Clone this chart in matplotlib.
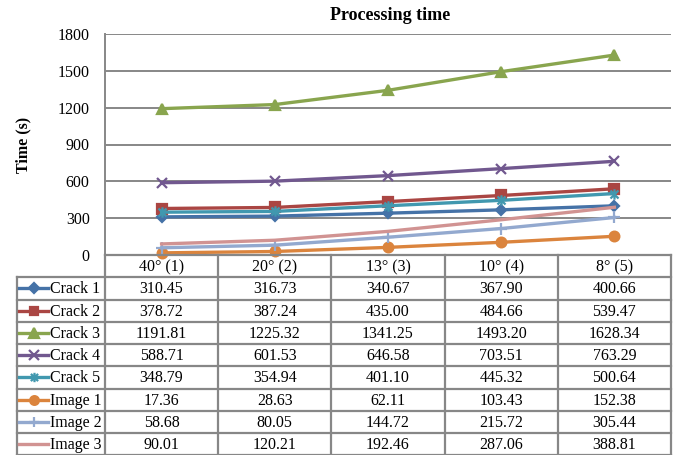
import matplotlib
matplotlib.use("Agg")
import matplotlib.pyplot as plt
from matplotlib.lines import Line2D
from matplotlib.path import Path

plt.rcParams['font.family'] = ['Liberation Serif', 'DejaVu Serif']

categories = ["40° (1)", "20° (2)", "13° (3)", "10° (4)", "8° (5)"]
series_names = ["Crack 1", "Crack 2", "Crack 3", "Crack 4", "Crack 5",
                "Image 1", "Image 2", "Image 3"]
crack1 = [310.45, 316.73, 340.67, 367.90, 400.66]
crack2 = [378.72, 387.24, 435.00, 484.66, 539.47]
crack3 = [1191.81, 1225.32, 1341.25, 1493.20, 1628.34]
crack4 = [588.71, 601.53, 646.58, 703.51, 763.29]
crack5 = [348.79, 354.94, 401.10, 445.32, 500.64]
image1 = [17.36, 28.63, 62.11, 103.43, 152.38]
image2 = [58.68, 80.05, 144.72, 215.72, 305.44]
image3 = [90.01, 120.21, 192.46, 287.06, 388.81]
y_ticks = [0, 300, 600, 900, 1200, 1500, 1800]

series_values = [crack1, crack2, crack3, crack4, crack5, image1, image2, image3]

# asterisk-style marker: an x crossed by a vertical bar
star_path = Path([(-1, -1), (1, 1), (-1, 1), (1, -1), (0, -1.3), (0, 1.3)],
                 [Path.MOVETO, Path.LINETO, Path.MOVETO, Path.LINETO,
                  Path.MOVETO, Path.LINETO])

colors = ["#4572A7", "#AA4643", "#89A54E", "#71588F", "#4198AF",
          "#DB843D", "#93A9CF", "#D19392"]
markers = ["D", "s", "^", "x", star_path, "o", "+", None]
msizes = [5.5, 6.5, 7.5, 7.5, 7.5, 7, 8.5, 0]

W, H = 678, 455
fig = plt.figure(figsize=(W / 100, H / 100), dpi=100)

# plot area in pixel terms
left, right, top, bottom = 105, 671, 34, 255
ax = fig.add_axes([left / W, (H - bottom) / H, (right - left) / W, (bottom - top) / H])
n = len(categories)
xs = list(range(n))
ax.set_xlim(-0.5, n - 0.5)
ax.set_ylim(0, 1800)
ax.set_yticks(y_ticks)
ax.set_yticklabels([str(t) for t in y_ticks], fontsize=11.5)
ax.tick_params(axis='y', length=0, pad=11)
ax.set_xticks([])
grid_c = "#878787"
ax.grid(axis='y', color=grid_c, linewidth=1.4)
ax.set_axisbelow(True)
for s in ["top", "right", "bottom"]:
    ax.spines[s].set_visible(False)
ax.spines["left"].set_color(grid_c)
ax.spines["left"].set_linewidth(1.4)


def marker_kw(c, m, ms):
    if m is None:
        return {}
    face = 'none' if m is star_path else c
    return dict(marker=m, markersize=ms, markerfacecolor=face,
                markeredgecolor=c, markeredgewidth=1.6)


for vals, c, m, ms in zip(series_values, colors, markers, msizes):
    ax.plot(xs, vals, color=c, linewidth=2.4, clip_on=False, **marker_kw(c, m, ms))

ax.set_ylabel("Time (s)", fontsize=11.5, fontweight='bold', labelpad=19)
fig.text(390 / W, 1 - 16 / H, "Processing time", ha='center', va='center',
         fontsize=13, fontweight='bold')

# data table beneath the plot
tax = fig.add_axes([0, 0, 1, 1])
tax.set_xlim(0, W)
tax.set_ylim(H, 0)
tax.axis('off')
label_left = 17
col_w = (right - left) / n
row_h = 22.25
header_top = bottom
lw = 1.6

# header row
tax.plot([left, right], [header_top, header_top], color=grid_c, lw=lw)
for j, cat in enumerate(categories):
    cx = left + (j + 0.5) * col_w
    tax.text(cx, header_top + row_h / 2 + 1, cat, ha='center', va='center', fontsize=11.5)

n_rows = len(series_names)
table_bottom = header_top + row_h * (n_rows + 1)
for i in range(n_rows + 1):
    y = header_top + row_h * (i + 1)
    tax.plot([label_left, right], [y, y], color=grid_c, lw=lw)
# vertical borders
for j in range(n + 1):
    x = left + j * col_w
    tax.plot([x, x], [header_top, table_bottom], color=grid_c, lw=lw)
tax.plot([label_left, label_left], [header_top + row_h, table_bottom], color=grid_c, lw=lw)

for i, (name, vals, c, m, ms) in enumerate(zip(series_names, series_values, colors, markers, msizes)):
    cy = header_top + row_h * (i + 1.5) + 1
    tax.add_line(Line2D([19, 48], [cy - 1, cy - 1], color=c, lw=2.4))
    if m is not None:
        tax.plot([33.5], [cy - 1], color=c, **marker_kw(c, m, ms * 0.9))
    tax.text(50, cy, name, ha='left', va='center', fontsize=11.5)
    for j, v in enumerate(vals):
        cx = left + (j + 0.5) * col_w
        tax.text(cx, cy, f"{v:.2f}", ha='center', va='center', fontsize=11.5)

fig.savefig("out.png", dpi=100)
